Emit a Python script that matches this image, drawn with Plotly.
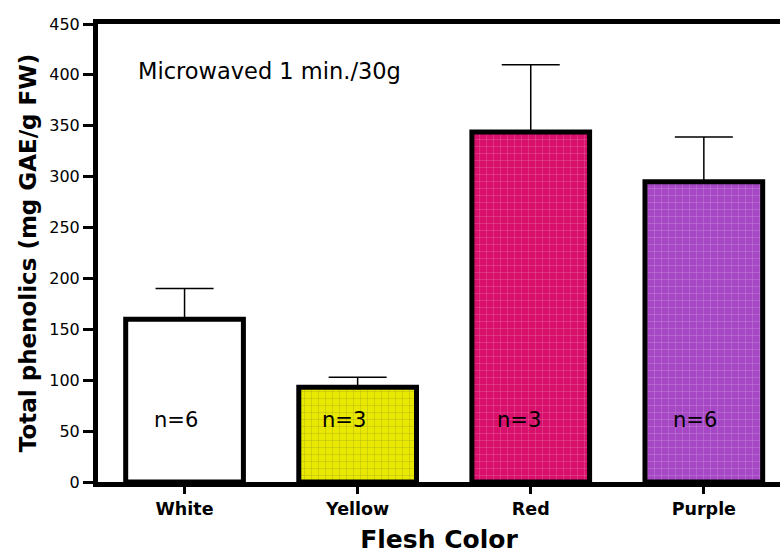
import plotly.graph_objects as go

# Flesh colour groups and their mean total phenolics (mg GAE/g FW)
categories = ["White", "Yellow", "Red", "Purple"]
means = [160, 93, 344, 295]
sem = [30, 10, 66, 44]
n_labels = ["n=6", "n=3", "n=3", "n=6"]
n_label_y = [61, 61, 61, 61]
fill_colors = ["#FFFFFF", "#E8E800", "#D8106C", "#A648C6"]
grid_colors = ["#FFFFFF", "#C8C800", "#B80C5A", "#8C38AA"]
grid_shapes = ["", "+", "+", "+"]

FONT = "DejaVu Sans, Arial"

fig = go.Figure()

fig.add_trace(go.Bar(
    x=list(range(len(categories))),
    y=means,
    width=0.68,
    marker=dict(
        color=fill_colors,
        line=dict(color="black", width=5),
        pattern=dict(shape=grid_shapes, size=7, solidity=0.08,
                     fgcolor=grid_colors, fgopacity=0.5),
    ),
    error_y=dict(type="data", symmetric=False, array=sem,
                 arrayminus=[0] * len(sem), color="black", thickness=1.5,
                 width=29),
    showlegend=False,
))

# sample sizes written inside the bars
label_dx = [-0.05, -0.08, -0.07, -0.05]
for i, (lab, yy) in enumerate(zip(n_labels, n_label_y)):
    fig.add_annotation(x=i + label_dx[i], y=yy, text=lab, showarrow=False,
                       font=dict(family=FONT, size=21, color="black"))

fig.add_annotation(xref="paper", yref="y", x=0.055, y=404, xanchor="left",
                   text="Microwaved 1 min./30g", showarrow=False,
                   font=dict(family=FONT, size=22.5, color="black"))

fig.update_layout(
    width=780, height=554,
    margin=dict(l=98, r=0, t=24, b=72),
    paper_bgcolor="white", plot_bgcolor="white",
    font=dict(family=FONT, color="black"),
)

fig.update_xaxes(
    range=[-0.5, 3.44],
    tickmode="array",
    tickvals=list(range(len(categories))),
    ticktext=["<b>%s</b>" % c for c in categories],
    tickfont=dict(size=17.5),
    ticks="outside", ticklen=7, tickwidth=3, tickcolor="black",
    showline=True, linewidth=5, linecolor="black", mirror=True,
    showgrid=False, zeroline=False,
    title=dict(text="<b>Flesh Color</b>", font=dict(size=25), standoff=14),
)

fig.update_yaxes(
    range=[0, 450],
    tickmode="array",
    tickvals=[0, 50, 100, 150, 200, 250, 300, 350, 400, 450],
    tickfont=dict(size=16),
    ticks="outside", ticklen=10, tickwidth=3, tickcolor="black",
    showline=True, linewidth=5, linecolor="black",
    showgrid=False, zeroline=False,
    title=dict(text="<b>Total phenolics (mg GAE/g FW)</b>",
               font=dict(size=23), standoff=8),
)

fig.write_html("out.html")
